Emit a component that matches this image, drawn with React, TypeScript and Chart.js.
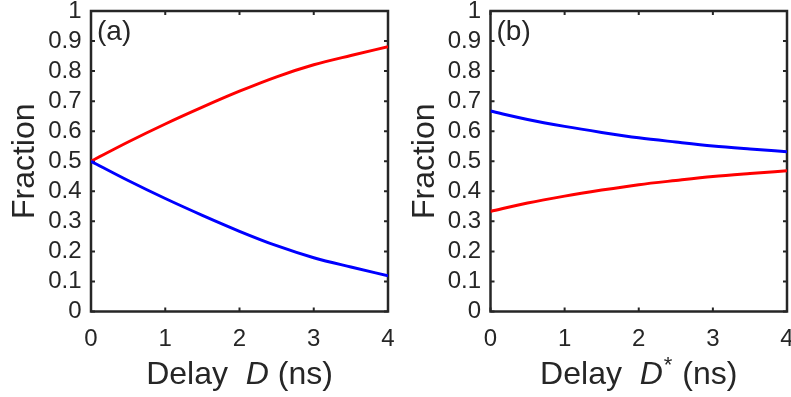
import React, { useEffect, useRef } from "react";
import { Chart, registerables } from "chart.js";

Chart.register(...registerables);

// ---- data ----
const delays = [0, 0.5, 1, 1.5, 2, 2.5, 3, 3.5, 4];
const panelARed = [0.5, 0.564, 0.624, 0.68, 0.733, 0.781, 0.821, 0.852, 0.881];
const panelABlue = [0.5, 0.436, 0.376, 0.32, 0.267, 0.219, 0.179, 0.148, 0.119];
const panelBBlue = [0.667, 0.639, 0.616, 0.596, 0.578, 0.564, 0.551, 0.541, 0.532];
const panelBRed = [0.333, 0.361, 0.384, 0.404, 0.422, 0.436, 0.449, 0.459, 0.468];

const xTickValues = [0, 1, 2, 3, 4];
const xTickLabels = ["0", "1", "2", "3", "4"];
const yTickValues = [0, 0.1, 0.2, 0.3, 0.4, 0.5, 0.6, 0.7, 0.8, 0.9, 1];
const yTickLabels = ["0", "0.1", "0.2", "0.3", "0.4", "0.5", "0.6", "0.7", "0.8", "0.9", "1"];

const yTitle = "Fraction";
const panelLabels = ["(a)", "(b)"];

const FONT = '"Liberation Sans", Arial, Helvetica, sans-serif';
const AXIS_COLOR = "#262626";
const RED = "#ff0000";
const BLUE = "#0000ff";
const H = 397;

type Piece = { t: string; style: "normal" | "italic" | "sup" };

const xTitleA: Piece[] = [
  { t: "Delay  ", style: "normal" },
  { t: "D", style: "italic" },
  { t: " (ns)", style: "normal" },
];
const xTitleB: Piece[] = [
  { t: "Delay  ", style: "normal" },
  { t: "D", style: "italic" },
  { t: "*", style: "sup" },
  { t: " (ns)", style: "normal" },
];

const TITLE_SIZE = 32;
const SUP_SIZE = 22;
const TICK_SIZE = 24;
const LABEL_SIZE = 28;

function fontFor(p: Piece) {
  if (p.style === "italic") return `italic ${TITLE_SIZE}px ${FONT}`;
  if (p.style === "sup") return `${SUP_SIZE}px ${FONT}`;
  return `${TITLE_SIZE}px ${FONT}`;
}

const framePlugin = {
  id: "frame",
  beforeDatasetsDraw(chart: any, _args: any, opts: any) {
    const { ctx, chartArea: a, scales } = chart;
    const TL = 4;
    ctx.save();
    ctx.strokeStyle = AXIS_COLOR;
    ctx.lineWidth = 2;
    ctx.beginPath();
    for (const t of scales.x.ticks) {
      const px = scales.x.getPixelForValue(t.value);
      ctx.moveTo(px, a.bottom);
      ctx.lineTo(px, a.bottom - TL);
      ctx.moveTo(px, a.top);
      ctx.lineTo(px, a.top + TL);
    }
    for (const t of scales.y.ticks) {
      const py = scales.y.getPixelForValue(t.value);
      ctx.moveTo(a.left, py);
      ctx.lineTo(a.left + TL, py);
      ctx.moveTo(a.right, py);
      ctx.lineTo(a.right - TL, py);
    }
    ctx.stroke();
    ctx.lineWidth = 2.5;
    ctx.strokeRect(a.left, a.top, a.right - a.left, a.bottom - a.top);

    ctx.fillStyle = AXIS_COLOR;
    // panel label
    ctx.font = `${LABEL_SIZE}px ${FONT}`;
    ctx.textAlign = "left";
    ctx.textBaseline = "alphabetic";
    ctx.fillText(opts.label, a.left + 6, a.top + 29);

    // y title
    ctx.save();
    ctx.translate(a.left - 57, (a.top + a.bottom) / 2);
    ctx.rotate(-Math.PI / 2);
    ctx.textAlign = "center";
    ctx.font = `${TITLE_SIZE}px ${FONT}`;
    ctx.fillText(yTitle, 0, 0);
    ctx.restore();

    // x title
    const pieces: Piece[] = opts.xTitle;
    let total = 0;
    const widths = pieces.map((p) => {
      ctx.font = fontFor(p);
      const w = ctx.measureText(p.t).width + (p.style === "sup" ? 2 : 0);
      total += w;
      return w;
    });
    let x = (a.left + a.right) / 2 - total / 2;
    const base = a.bottom + 72;
    ctx.textAlign = "left";
    pieces.forEach((p, i) => {
      ctx.font = fontFor(p);
      const yy = p.style === "sup" ? base - 12 : base;
      ctx.fillText(p.t, x + (p.style === "sup" ? 1 : 0), yy);
      x += widths[i];
    });
    ctx.restore();
  },
};

function makeConfig(
  seriesRed: number[],
  seriesBlue: number[],
  plotLeft: number,
  padRight: number,
  label: string,
  xTitle: Piece[]
): any {
  const toPts = (arr: number[]) => delays.map((d, i) => ({ x: d, y: arr[i] }));
  return {
    type: "line",
    data: {
      datasets: [
        {
          data: toPts(seriesBlue),
          borderColor: BLUE,
          borderWidth: 3,
          pointRadius: 0,
          cubicInterpolationMode: "monotone",
          fill: false,
        },
        {
          data: toPts(seriesRed),
          borderColor: RED,
          borderWidth: 3,
          pointRadius: 0,
          cubicInterpolationMode: "monotone",
          fill: false,
        },
      ],
    },
    options: {
      responsive: false,
      animation: false,
      devicePixelRatio: 1,
      layout: { padding: { left: 0, top: 11, right: padRight, bottom: 0 } },
      plugins: {
        legend: { display: false },
        tooltip: { enabled: false },
        frame: { label, xTitle },
      },
      scales: {
        x: {
          type: "linear",
          min: 0,
          max: 4,
          grid: { display: false, drawTicks: false },
          border: { display: false },
          afterBuildTicks: (s: any) => {
            s.ticks = xTickValues.map((v) => ({ value: v }));
          },
          ticks: {
            autoSkip: false,
            maxRotation: 0,
            padding: 13,
            color: AXIS_COLOR,
            font: { family: FONT, size: TICK_SIZE },
            callback: (_v: any, i: number) => xTickLabels[i],
          },
          afterFit: (s: any) => {
            s.height = H - 311.5;
            s.paddingLeft = 0;
            s.paddingRight = 0;
          },
        },
        y: {
          type: "linear",
          min: 0,
          max: 1,
          grid: { display: false, drawTicks: false },
          border: { display: false },
          afterBuildTicks: (s: any) => {
            s.ticks = yTickValues.map((v) => ({ value: v }));
          },
          ticks: {
            autoSkip: false,
            padding: 9.5,
            color: AXIS_COLOR,
            font: { family: FONT, size: TICK_SIZE },
            callback: (_v: any, i: number) => yTickLabels[i],
          },
          afterFit: (s: any) => {
            s.width = plotLeft;
            s.paddingTop = 0;
            s.paddingBottom = 0;
          },
        },
      },
    },
    plugins: [framePlugin],
  };
}

function Panel(props: {
  left: number;
  width: number;
  red: number[];
  blue: number[];
  plotLeft: number;
  padRight: number;
  label: string;
  xTitle: Piece[];
}) {
  const ref = useRef<HTMLCanvasElement>(null);
  useEffect(() => {
    if (!ref.current) return;
    const chart = new Chart(
      ref.current,
      makeConfig(props.red, props.blue, props.plotLeft, props.padRight, props.label, props.xTitle)
    );
    return () => chart.destroy();
  }, []);
  return (
    <canvas
      ref={ref}
      width={props.width}
      height={H}
      style={{ position: "absolute", left: props.left, top: 0, width: props.width, height: H }}
    />
  );
}

export default function App() {
  return (
    <div
      style={{
        position: "absolute",
        left: 0,
        top: 0,
        width: 791,
        height: H,
        overflow: "hidden",
        background: "#ffffff",
      }}
    >
      <Panel left={0} width={395} red={panelARed} blue={panelABlue} plotLeft={91} padRight={7} label={panelLabels[0]} xTitle={xTitleA} />
      <Panel left={395} width={396} red={panelBRed} blue={panelBBlue} plotLeft={95.5} padRight={4} label={panelLabels[1]} xTitle={xTitleB} />
    </div>
  );
}
